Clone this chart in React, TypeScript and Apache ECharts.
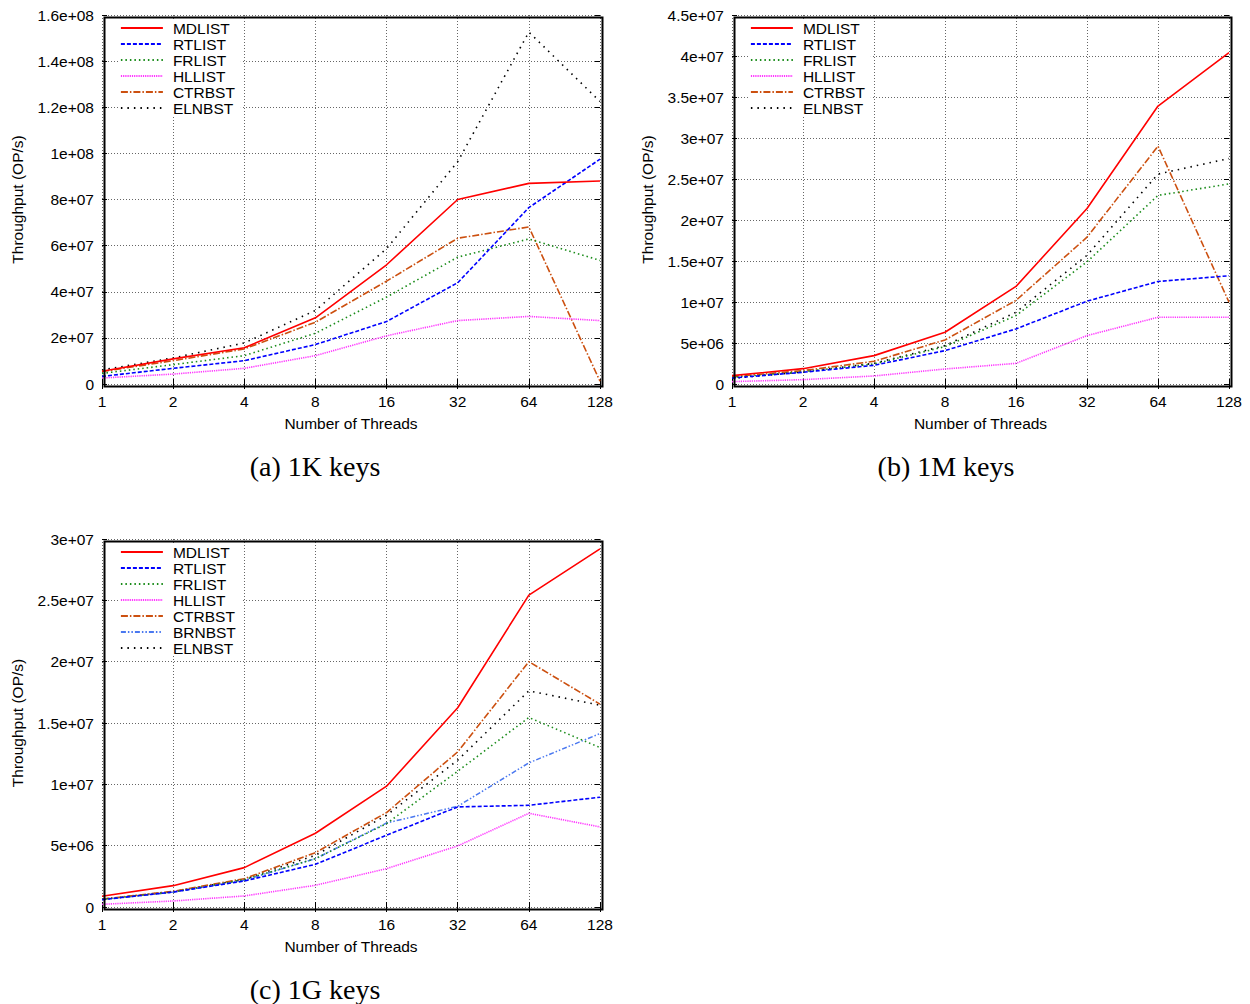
import React, { useEffect, useRef } from "react";
import * as echarts from "echarts";

const threads = ["1", "2", "4", "8", "16", "32", "64", "128"];

// (a) 1K keys
const a_MDLIST = [5.5e6, 1.09e7, 1.57e7, 2.87e7, 5.17e7, 8.0e7, 8.7e7, 8.8e7];
const a_RTLIST = [3.3e6, 6.8e6, 1.01e7, 1.71e7, 2.71e7, 4.39e7, 7.65e7, 9.75e7];
const a_FRLIST = [4.6e6, 8.4e6, 1.23e7, 2.2e7, 3.77e7, 5.5e7, 6.29e7, 5.36e7];
const a_HLLIST = [2.6e6, 4.3e6, 6.8e6, 1.23e7, 2.09e7, 2.75e7, 2.93e7, 2.75e7];
const a_CTRBST = [5.4e6, 1.01e7, 1.52e7, 2.68e7, 4.46e7, 6.32e7, 6.81e7, 1.2e6];
const a_ELNBST = [6.1e6, 1.13e7, 1.78e7, 3.19e7, 5.87e7, 9.64e7, 1.526e8, 1.225e8];

// (b) 1M keys
const b_MDLIST = [1.02e6, 1.87e6, 3.46e6, 6.31e6, 1.19e7, 2.14e7, 3.39e7, 4.04e7];
const b_RTLIST = [7.3e5, 1.43e6, 2.28e6, 4.07e6, 6.72e6, 1.01e7, 1.25e7, 1.32e7];
const b_FRLIST = [8.1e5, 1.5e6, 2.44e6, 4.56e6, 8.35e6, 1.49e7, 2.3e7, 2.44e7];
const b_HLLIST = [2.9e5, 5.3e5, 9.8e5, 1.83e6, 2.52e6, 5.9e6, 8.14e6, 8.14e6];
const b_CTRBST = [9.0e5, 1.63e6, 2.77e6, 5.37e6, 1.02e7, 1.79e7, 2.9e7, 9.98e6];
const b_ELNBST = [6.9e5, 1.47e6, 2.52e6, 4.68e6, 8.75e6, 1.57e7, 2.56e7, 2.75e7];

// (c) 1G keys
const c_MDLIST = [8.7e5, 1.74e6, 3.21e6, 6.01e6, 9.85e6, 1.624e7, 2.543e7, 2.92e7];
const c_RTLIST = [6.0e5, 1.22e6, 2.12e6, 3.48e6, 5.85e6, 8.16e6, 8.29e6, 8.95e6];
const c_FRLIST = [6.3e5, 1.22e6, 2.23e6, 3.94e6, 6.8e6, 1.107e7, 1.545e7, 1.3e7];
const c_HLLIST = [2.2e5, 4.9e5, 9.0e5, 1.77e6, 3.13e6, 4.98e6, 7.64e6, 6.53e6];
const c_CTRBST = [6.5e5, 1.28e6, 2.31e6, 4.43e6, 7.7e6, 1.265e7, 2.0e7, 1.654e7];
const c_BRNBST = [6.0e5, 1.22e6, 2.18e6, 3.94e6, 6.85e6, 8.21e6, 1.175e7, 1.414e7];
const c_ELNBST = [6.3e5, 1.25e6, 2.26e6, 4.22e6, 7.48e6, 1.197e7, 1.762e7, 1.645e7];

const captions = ["(a) 1K keys", "(b) 1M keys", "(c) 1G keys"];
const yMax = [1.6e8, 4.5e7, 3e7];
const yInterval = [2e7, 5e6, 5e6];

const STYLES: Record<string, any> = {
  MDLIST: { color: "#ff0000", type: "solid", width: 1.6 },
  RTLIST: { color: "#0000ff", type: [4, 2], width: 1.6 },
  FRLIST: { color: "#1a8c1a", type: [1.5, 3], width: 1.6 },
  HLLIST: { color: "#ff33ff", type: [1.2, 1], width: 1.6 },
  CTRBST: { color: "#cc5010", type: [7, 2, 1.5, 2], width: 1.6 },
  BRNBST: { color: "#4a78f0", type: [5, 2, 1.5, 2, 1.5, 2], width: 1.5 },
  ELNBST: { color: "#000000", type: [1.5, 5], width: 1.6 },
};

const panels = [
  {
    names: ["MDLIST", "RTLIST", "FRLIST", "HLLIST", "CTRBST", "ELNBST"],
    data: [a_MDLIST, a_RTLIST, a_FRLIST, a_HLLIST, a_CTRBST, a_ELNBST],
  },
  {
    names: ["MDLIST", "RTLIST", "FRLIST", "HLLIST", "CTRBST", "ELNBST"],
    data: [b_MDLIST, b_RTLIST, b_FRLIST, b_HLLIST, b_CTRBST, b_ELNBST],
  },
  {
    names: ["MDLIST", "RTLIST", "FRLIST", "HLLIST", "CTRBST", "BRNBST", "ELNBST"],
    data: [c_MDLIST, c_RTLIST, c_FRLIST, c_HLLIST, c_CTRBST, c_BRNBST, c_ELNBST],
  },
];

const grids = [
  { left: 102, top: 15, width: 498, height: 369 },
  { left: 732, top: 15, width: 497, height: 369 },
  { left: 102, top: 539, width: 498, height: 368 },
];
const captionPos = [
  [315, 466],
  [946, 466],
  [315, 989],
];

const FONT = "Liberation Sans";
const FS = 15.5;

function fmt(v: number) {
  if (v === 0) return "0";
  return v.toExponential().replace(/e\+(\d)$/, "e+0$1");
}

export default function App() {
  const ref = useRef<HTMLDivElement>(null);
  useEffect(() => {
    const chart = echarts.init(ref.current!, null, { renderer: "svg" });
    const xAxis: any[] = [];
    const yAxis: any[] = [];
    const series: any[] = [];
    const legend: any[] = [];
    const graphic: any[] = [];
    grids.forEach((g, i) => {
      xAxis.push({
        type: "category",
        gridIndex: i,
        data: threads,
        boundaryGap: false,
        name: "Number of Threads",
        nameLocation: "middle",
        nameGap: 31,
        nameTextStyle: { fontFamily: FONT, fontSize: FS, color: "#000" },
        axisLine: { show: false },
        axisTick: { show: true, inside: true, length: 5, lineStyle: { color: "#000" } },
        axisLabel: { fontFamily: FONT, fontSize: FS, color: "#000", margin: 9 },
        splitLine: { show: true, lineStyle: { color: "#666", type: [1, 2], width: 1 } },
      });
      xAxis.push({
        type: "category",
        gridIndex: i,
        data: threads,
        boundaryGap: false,
        position: "top",
        axisLine: { show: false },
        axisTick: { show: true, inside: true, length: 5, lineStyle: { color: "#000" } },
        axisLabel: { show: false },
        splitLine: { show: false },
      });
      yAxis.push({
        type: "value",
        gridIndex: i,
        min: 0,
        max: yMax[i],
        interval: yInterval[i],
        name: "Throughput (OP/s)",
        nameLocation: "middle",
        nameGap: 77,
        nameTextStyle: { fontFamily: FONT, fontSize: FS, color: "#000" },
        axisLine: { show: false },
        axisTick: { show: true, inside: true, length: 5, lineStyle: { color: "#000" } },
        axisLabel: { fontFamily: FONT, fontSize: FS, color: "#000", margin: 8, formatter: fmt },
        splitLine: { show: true, lineStyle: { color: "#666", type: [1, 2], width: 1 } },
      });
      yAxis.push({
        type: "value",
        gridIndex: i,
        min: 0,
        max: yMax[i],
        interval: yInterval[i],
        position: "right",
        axisLine: { show: false },
        axisTick: { show: true, inside: true, length: 5, lineStyle: { color: "#000" } },
        axisLabel: { show: false },
        splitLine: { show: false },
      });
      const p = panels[i];
      p.names.forEach((n, k) => {
        const s = STYLES[n];
        series.push({
          type: "line",
          name: n,
          xAxisIndex: i * 2,
          yAxisIndex: i * 2,
          data: p.data[k],
          symbol: "none",
          z: 10 - k,
          lineStyle: { color: s.color, type: s.type, width: s.width },
          itemStyle: { color: s.color },
        });
      });
      legend.push({
        orient: "vertical",
        left: g.left + 18,
        top: g.top + 5,
        data: p.names.map((n) => ({
          name: n,
          lineStyle: { color: STYLES[n].color, type: STYLES[n].type, width: 1.8 },
          itemStyle: { opacity: 0 },
        })),
        itemWidth: 42,
        itemHeight: 14,
        itemGap: 0,
        padding: [0, 6, 0, 0],
        backgroundColor: "#fff",
        selectedMode: false,
        textStyle: {
          fontFamily: FONT,
          fontSize: FS,
          lineHeight: 15.4,
          color: "#000",
          padding: [0, 0, 0, 5],
        },
      });
      graphic.push({
        type: "rect",
        left: g.left,
        top: g.top,
        shape: { width: g.width, height: g.height },
        style: { fill: "none", stroke: "#000", lineWidth: 2 },
        z: 100,
        silent: true,
      });
      graphic.push({
        type: "text",
        x: captionPos[i][0],
        y: captionPos[i][1],
        style: {
          text: captions[i],
          fontFamily: "Liberation Serif",
          fontSize: 28,
          fill: "#000",
          textAlign: "center",
          textVerticalAlign: "middle",
        },
      });
    });
    chart.setOption({
      animation: false,
      backgroundColor: "#fff",
      grid: grids.map((g) => ({ ...g, containLabel: false })),
      xAxis,
      yAxis,
      legend,
      series,
      graphic,
    });
    return () => chart.dispose();
  }, []);
  return (
    <div
      ref={ref}
      style={{ position: "fixed", left: 0, top: 0, width: 1250, height: 1004 }}
    />
  );
}
